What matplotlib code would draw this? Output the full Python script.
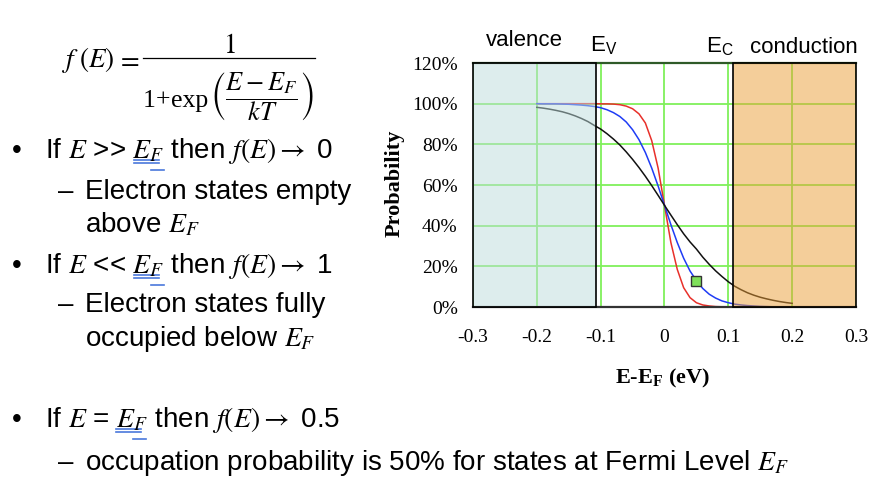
import matplotlib
matplotlib.use("Agg")
import matplotlib.pyplot as plt
from matplotlib.lines import Line2D
from matplotlib.patches import Rectangle

# energy E - E_F (eV) at 0.01 eV steps
energy = [-0.20, -0.19, -0.18, -0.17, -0.16, -0.15, -0.14, -0.13, -0.12, -0.11,
          -0.10, -0.09, -0.08, -0.07, -0.06, -0.05, -0.04, -0.03, -0.02, -0.01,
          0.00, 0.01, 0.02, 0.03, 0.04, 0.05, 0.06, 0.07, 0.08, 0.09,
          0.10, 0.11, 0.12, 0.13, 0.14, 0.15, 0.16, 0.17, 0.18, 0.19, 0.20]
# black curve (hottest)
prob_black = [0.982, 0.978, 0.973, 0.967, 0.960, 0.951, 0.940, 0.927, 0.912, 0.893,
              0.875, 0.852, 0.826, 0.797, 0.763, 0.726, 0.686, 0.643, 0.597, 0.549,
              0.500, 0.452, 0.405, 0.360, 0.320, 0.285, 0.245, 0.210, 0.178, 0.150,
              0.124, 0.102, 0.085, 0.070, 0.058, 0.048, 0.040, 0.033, 0.027, 0.022, 0.018]
# blue curve
prob_blue = [1.000, 0.999, 0.999, 0.999, 0.998, 0.997, 0.995, 0.993, 0.990, 0.986,
             0.980, 0.970, 0.956, 0.937, 0.910, 0.872, 0.823, 0.760, 0.683, 0.595,
             0.500, 0.405, 0.317, 0.240, 0.177, 0.130, 0.091, 0.063, 0.044, 0.030,
             0.021, 0.014, 0.010, 0.007, 0.005, 0.003, 0.002, 0.001, 0.001, 0.001, 0.000]
# red curve (coldest)
prob_red = [1.000, 1.000, 1.000, 1.000, 1.000, 1.000, 1.000, 1.000, 1.000, 1.000,
            0.999, 0.999, 0.998, 0.995, 0.988, 0.975, 0.950, 0.905, 0.818, 0.683,
            0.500, 0.317, 0.185, 0.095, 0.046, 0.021, 0.010, 0.005, 0.002, 0.001,
            0.001, 0.000, 0.000, 0.000, 0.000, 0.000, 0.000, 0.000, 0.000, 0.000, 0.000]
marker_x = [0.05]
marker_y = [0.13]

x_ticks = [-0.3, -0.2, -0.1, 0.0, 0.1, 0.2, 0.3]
x_tick_labels = ["-0.3", "-0.2", "-0.1", "0", "0.1", "0.2", "0.3"]
y_ticks = [0.0, 0.2, 0.4, 0.6, 0.8, 1.0, 1.2]
y_tick_labels = ["0%", "20%", "40%", "60%", "80%", "100%", "120%"]
valence_edge = -0.108
conduction_edge = 0.107

plt.rcParams["font.family"] = ["Liberation Sans", "DejaVu Sans"]
plt.rcParams["mathtext.fontset"] = "stix"

W, H = 870, 496
fig = plt.figure(figsize=(W / 100, H / 100), dpi=100)


def fx(px):
    return px / W


def fy(py):
    return 1 - py / H


def hline(x0, x1, y, color="black", lw=0.9):
    fig.add_artist(Line2D([fx(x0), fx(x1)], [fy(y), fy(y)], color=color, lw=lw))


# ---- chart ----
ax = fig.add_axes([fx(473), fy(307), (856 - 473) / W, (307 - 63) / H])
ax.set_xlim(-0.3, 0.3)
ax.set_ylim(0, 1.2)
ax.grid(color="#7ff05a", lw=1.3)
ax.set_axisbelow(True)

ax.plot(energy, prob_red, color="#e8302a", lw=1.1, zorder=2)
ax.plot(energy, prob_blue, color="#1f3cf5", lw=1.1, zorder=2)
ax.plot(energy, prob_black, color="#111111", lw=1.1, zorder=2)

ax.add_patch(Rectangle((-0.3, 0), valence_edge + 0.3, 1.2,
                       facecolor=(0.74, 0.866, 0.866, 0.5),
                       edgecolor="black", lw=1.2, zorder=3, clip_on=False))
ax.add_patch(Rectangle((conduction_edge, 0), 0.3 - conduction_edge, 1.2,
                       facecolor=(0.92, 0.62, 0.21, 0.5),
                       edgecolor="black", lw=1.2, zorder=3, clip_on=False))

ax.plot(marker_x, marker_y, ls="none", marker="s", ms=6.5,
        mfc="#7fe05a", mec="#333333", mew=1.0, zorder=4)

for side in ["left", "right"]:
    ax.spines[side].set_visible(False)
ax.spines["top"].set_color("#2f5a28")
ax.spines["top"].set_linewidth(1.6)
ax.spines["bottom"].set_color("#333333")
ax.spines["bottom"].set_linewidth(1.6)

ax.set_xticks(x_ticks)
ax.set_xticklabels(x_tick_labels, family="Liberation Serif", fontsize=14)
ax.set_yticks(y_ticks)
ax.set_yticklabels(y_tick_labels, family="Liberation Serif", fontsize=14)
ax.tick_params(axis="x", length=0, pad=16)
ax.tick_params(axis="y", length=0, pad=11)

fig.text(fx(395), fy(183), "Probability", rotation=90, ha="center", va="center",
         family="Liberation Serif", fontweight="bold", fontsize=16)
fig.text(fx(663), fy(378), r"E-E$_\mathregular{F}$ (eV)", ha="center", va="center",
         family="Liberation Serif", fontweight="bold", fontsize=16)

fig.text(fx(486), fy(46), "valence", fontsize=16)
fig.text(fx(590), fy(51), r"E$_\mathregular{V}$", fontsize=16)
fig.text(fx(706), fy(52), r"E$_\mathregular{C}$", fontsize=16)
fig.text(fx(750), fy(53), "conduction", fontsize=16)

# ---- Fermi-Dirac formula ----
fs_eq = 19.5
fig.text(fx(62), fy(67), r"$f$", fontsize=fs_eq, va="baseline")
fig.text(fx(79), fy(67), r"$(E)$", fontsize=fs_eq, va="baseline")
fig.text(fx(117), fy(67), r"$=$", fontsize=fs_eq, va="baseline")
fig.text(fx(229), fy(53), r"$1$", fontsize=fs_eq, va="baseline", ha="center")
hline(143, 315, 58)
fig.text(fx(143), fy(107), "1", fontsize=18.5, va="baseline",
         family="Liberation Serif")
fig.text(fx(156), fy(107), "+", fontsize=18.5, va="baseline",
         family="Liberation Serif")
fig.text(fx(171), fy(107), "exp", fontsize=18.5, va="baseline",
         family="Liberation Serif")
fig.text(fx(210), fy(97), r"$\left(\dfrac{E-E_F}{kT}\right)$",
         fontsize=19, va="center", ha="left")

# ---- slide text ----
body = 20
lines = [
    (12, 158, "\u2022"), (45, 158, r"If $E$ >> $E_F$ then $f(E) \rightarrow$ 0"),
    (58, 199, "\u2013"), (85, 199, "Electron states empty"),
    (85, 232, r"above $E_F$"),
    (12, 273, "\u2022"), (45, 273, r"If $E$ << $E_F$ then $f(E) \rightarrow$ 1"),
    (58, 312, "\u2013"), (85, 312, "Electron states fully"),
    (85, 346, r"occupied below $E_F$"),
    (12, 427, "\u2022"), (45, 427, r"If $E$ = $E_F$ then $f(E) \rightarrow$ 0.5"),
    (58, 470, "\u2013"),
    (85, 470, r"occupation probability is 50% for states at Fermi Level $E_F$"),
]
for px, py, txt in lines:
    fig.text(fx(px), fy(py), txt, fontsize=body, va="baseline")

# blue spell-check underlines under E_F
for x0, x1, y0 in [(134, 159, 160), (134, 159, 275), (116, 141, 429)]:
    for y in (y0, y0 + 3):
        hline(x0, x1, y, color="#4a78dc", lw=1.2)
    hline(x1 - 8, x1 + 5, y0 + 10, color="#4a78dc", lw=1.2)

fig.savefig("out.png", dpi=100)
